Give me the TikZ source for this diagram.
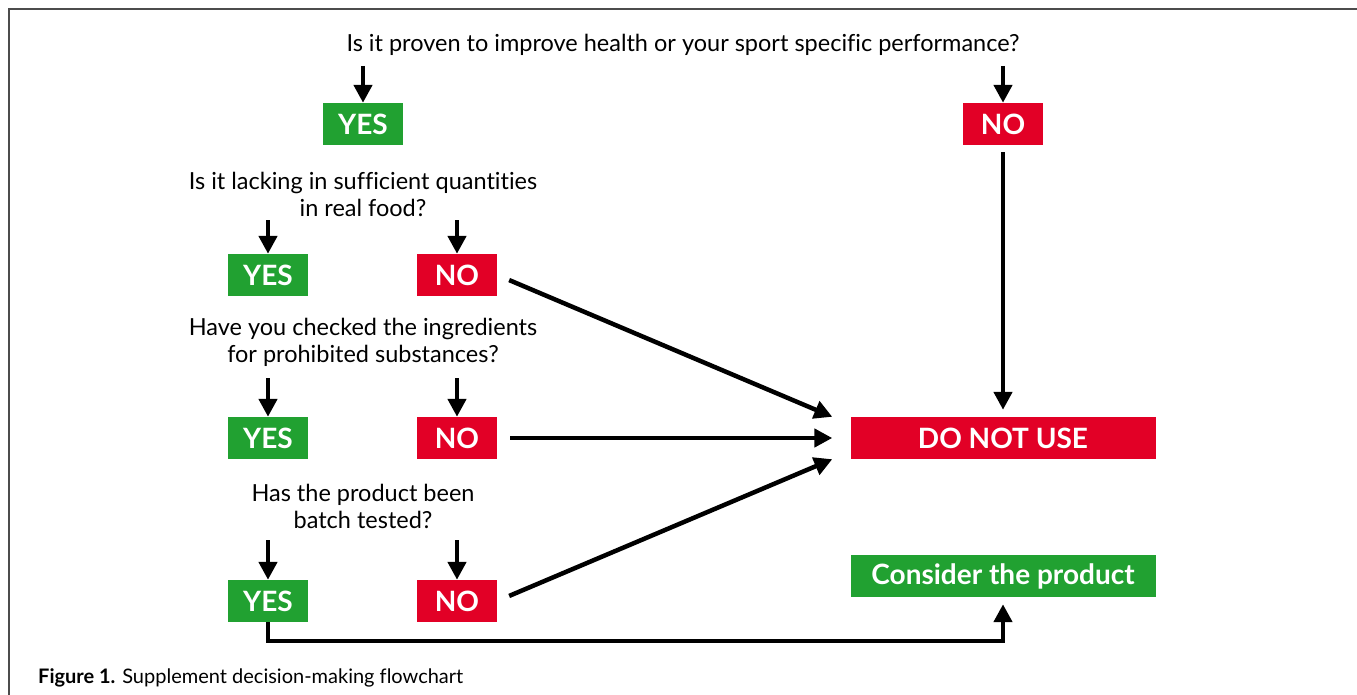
\documentclass[tikz,border=0pt]{standalone}
\usepackage{fontspec}
\setmainfont{Lato}[Ligatures=NoCommon]
\usetikzlibrary{arrows.meta}
\definecolor{yes green}{RGB}{33,161,49}
\definecolor{no red}{RGB}{226,0,38}
\tikzset{yesbox/.style={fill=yes green, text=white, inner sep=0pt,
        minimum width=80pt, minimum height=42pt,
        font=\fontsize{28}{32}\selectfont\bfseries},
    nobox/.style={yesbox, fill=no red},
    question/.style={align=center, inner sep=2pt,
        font=\fontsize{23.5}{27}\selectfont},
    arrow/.style={-{Triangle[length=18pt,width=18pt]}, line width=4.5pt}}

\begin{document}
\begin{tikzpicture}[x=1pt, y=-1pt]
    \useasboundingbox (0,0) rectangle (1357,695);
    \draw[line width=1.5pt, black!70] (9,695) -- (9,9) -- (1357,9);
    % questions
    \node[question] (Q1) at (683,45) {Is it proven to improve health or your sport specific performance?};
    \node[question] (Q2) at (363,194) {Is it lacking in sufficient quantities\\in real food?};
    \node[question] (Q3) at (363,342) {Have you checked the ingredients\\for prohibited substances?};
    \node[question] (Q4) at (363,506) {Has the product been\\batch tested?};
    % answers
    \node[yesbox] (YES1) at (363,124) {YES};
    \node[nobox]  (NO1)  at (1003,124) {NO};
    \node[yesbox] (YES2) at (268,275) {YES};
    \node[nobox]  (NO2)  at (457,275) {NO};
    \node[yesbox] (YES3) at (268,438) {YES};
    \node[nobox]  (NO3)  at (457,438) {NO};
    \node[yesbox] (YES4) at (268,601) {YES};
    \node[nobox]  (NO4)  at (457,601) {NO};
    % outcomes
    \node[nobox, minimum width=305pt]  (DNU) at (1003,438) {DO NOT USE};
    \node[yesbox, minimum width=305pt] (CP)  at (1003,576) {Consider the product};
    % arrows
    \draw[arrow, shorten <=8pt] (Q1.south -| YES1) -- (YES1);
    \draw[arrow, shorten <=8pt] (Q1.south -| NO1)  -- (NO1);
    \draw[arrow, shorten <=2pt] (Q2.south -| YES2) -- (YES2);
    \draw[arrow, shorten <=2pt] (Q2.south -| NO2)  -- (NO2);
    \draw[arrow, shorten <=10pt] (Q3.south -| YES3) -- (YES3);
    \draw[arrow, shorten <=10pt] (Q3.south -| NO3)  -- (NO3);
    \draw[arrow, shorten <=10pt] (Q4.south -| YES4) -- (YES4);
    \draw[arrow, shorten <=10pt] (Q4.south -| NO4)  -- (NO4);
    \draw[arrow, shorten <=7pt, shorten >=7pt] (NO1) -- (DNU);
    \draw[arrow, shorten <=13pt] (NO2.east) -- ([xshift=-18pt]DNU.north west);
    \draw[arrow, shorten <=13pt] (NO3.east) -- ([xshift=-18pt]DNU.west);
    \draw[arrow, shorten <=13pt] (NO4.east) -- ([xshift=-18pt]DNU.south west);
    \draw[arrow, shorten >=7pt] (YES4.south) -- ++(0,19) -| (CP.south);
    % caption
    \node[anchor=base west, inner sep=0pt, font=\fontsize{20}{24}\selectfont] (caption)
        at (38,683) {\textbf{Figure 1.} Supplement decision-making flowchart};
\end{tikzpicture}
\end{document}
